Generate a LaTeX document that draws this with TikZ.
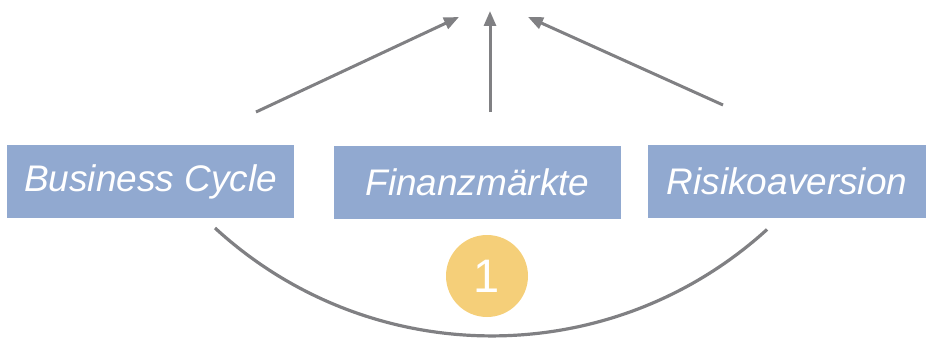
\documentclass[tikz,border=0pt]{standalone}
\usepackage{fontspec}
\setmainfont{Liberation Sans}
\usetikzlibrary{arrows.meta}
\definecolor{boxblue}{RGB}{145,169,208}
\definecolor{linegray}{RGB}{128,128,131}
\definecolor{badge}{RGB}{245,207,121}
\tikzset{
  topic/.style={fill=boxblue, draw=none, minimum height=73pt, inner sep=0pt,
    text=white, font=\fontsize{37}{40}\selectfont\itshape},
  flow/.style={draw=linegray, line width=3pt,
    -{Triangle[length=15pt,width=12pt]}},
  loop/.style={draw=linegray, line width=3.2pt},
  badgecircle/.style={circle, fill=badge, minimum size=82pt, inner sep=0pt,
    text=white, font=\fontsize{47}{50}\selectfont}
}
\begin{document}
\begin{tikzpicture}[x=1pt,y=1pt]
  \useasboundingbox (0,0) rectangle (926,341);

  % the three drivers
  \node[topic, minimum width=287pt] (bc) at (150.5,159.5) {Business Cycle};
  \node[topic, minimum width=287pt] (fm) at (477.5,159) {Finanzmärkte};
  \node[topic, minimum width=278pt] (ra) at (787,159.5) {Risikoaversion};

  % numbered badge
  \node[badgecircle] (one) at (487,65) {1};

  % arrows converging upwards
  \coordinate (bcout) at (256,229);
  \coordinate (fmout) at (490,229);
  \coordinate (raout) at (723,236);
  \coordinate (bcin) at (459,324);
  \coordinate (fmin) at (490,330);
  \coordinate (rain) at (528,324);
  \draw[flow] (bcout) -- (bcin);
  \draw[flow] (fmout) -- (fmin);
  \draw[flow] (raout) -- (rain);

  % arc joining the outer boxes below
  \coordinate (arcstart) at (215,113);
  \draw[loop] (arcstart) arc[start angle=227.4, end angle=312.3, radius=409];
\end{tikzpicture}
\end{document}
